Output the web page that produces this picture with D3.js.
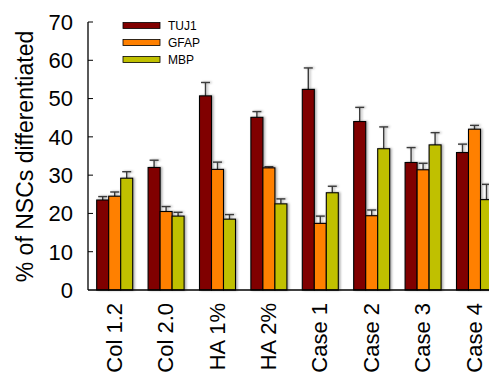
<!DOCTYPE html>
<html>
<head>
<meta charset="utf-8">
<script src="https://cdn.jsdelivr.net/npm/d3@7"></script>
<style>
  html, body { margin: 0; padding: 0; background: #fff; }
  svg { display: block; font-family: "Liberation Sans", Arial, sans-serif; }
</style>
</head>
<body>
<div id="chart"></div>
<script>
const categories = ["Col 1.2", "Col 2.0", "HA 1%", "HA 2%", "Case 1", "Case 2", "Case 3", "Case 4"];
const seriesNames = ["TUJ1", "GFAP", "MBP"];
const seriesColors = ["#800000", "#ff8000", "#c0c000"];

const tuj1 = [23.5, 32.0, 50.7, 45.1, 52.4, 44.0, 33.3, 35.9];
const gfap = [24.5, 20.5, 31.5, 31.9, 17.4, 19.4, 31.4, 42.0];
const mbp = [29.2, 19.3, 18.5, 22.5, 25.4, 36.9, 37.9, 23.6];

const tuj1Err = [0.9, 1.9, 3.5, 1.5, 5.6, 3.7, 3.9, 2.2];
const gfapErr = [1.1, 1.3, 1.9, 0.3, 1.9, 1.5, 1.7, 1.0];
const mbpErr = [1.7, 1.0, 1.2, 1.3, 1.7, 5.7, 3.2, 4.0];

const yTicks = [0, 10, 20, 30, 40, 50, 60, 70];

const values = [tuj1, gfap, mbp];
const errors = [tuj1Err, gfapErr, mbpErr];

const width = 489, height = 375;
const mLeft = 88, mBottom = 290, mTop = 22;
const step = 51.4;

const svg = d3.select("#chart").append("svg")
  .attr("width", width)
  .attr("height", height);

const defs = svg.append("defs");
defs.append("filter").attr("id", "shadow")
  .attr("x", "-20%").attr("y", "-5%").attr("width", "150%").attr("height", "110%")
  .append("feDropShadow")
  .attr("dx", 1.5).attr("dy", 0).attr("stdDeviation", 0.8)
  .attr("flood-color", "#000").attr("flood-opacity", 0.35);

const x = d3.scaleBand()
  .domain(categories)
  .range([mLeft, mLeft + step * categories.length])
  .padding(0);

const xInner = d3.scaleBand()
  .domain(seriesNames)
  .range([8.7, 8.7 + 36])
  .padding(0);

const y = d3.scaleLinear()
  .domain([0, 70])
  .range([mBottom, mTop]);

const rows = [];
categories.forEach((c, i) => {
  seriesNames.forEach((s, j) => {
    rows.push({ cat: c, series: s, value: values[j][i], err: errors[j][i], color: seriesColors[j] });
  });
});

// error bars (upper only), drawn behind bars
const eb = svg.append("g").attr("filter", "url(#shadow)");
rows.forEach(d => {
  const cx = x(d.cat) + xInner(d.series) + xInner.bandwidth() / 2;
  const yTop = y(d.value + d.err);
  eb.append("line")
    .attr("x1", cx).attr("x2", cx)
    .attr("y1", y(d.value)).attr("y2", yTop)
    .attr("stroke", "#3a3a3a").attr("stroke-width", 1.4);
  eb.append("line")
    .attr("x1", cx - 4.5).attr("x2", cx + 4.5)
    .attr("y1", yTop).attr("y2", yTop)
    .attr("stroke", "#3a3a3a").attr("stroke-width", 1.4);
});

// bars
svg.append("g").attr("filter", "url(#shadow)")
  .selectAll("rect")
  .data(rows)
  .join("rect")
  .attr("x", d => x(d.cat) + xInner(d.series))
  .attr("y", d => y(d.value))
  .attr("width", xInner.bandwidth())
  .attr("height", d => y(0) - y(d.value))
  .attr("fill", d => d.color)
  .attr("stroke", "#000")
  .attr("stroke-width", 1.1);

// y axis
const yAxis = svg.append("g").attr("transform", `translate(${mLeft},0)`);
yAxis.append("line")
  .attr("x1", 0).attr("x2", 0)
  .attr("y1", y(70)).attr("y2", y(0))
  .attr("stroke", "#000").attr("stroke-width", 1.3);
yAxis.selectAll("line.tick")
  .data(yTicks.filter(t => t > 0))
  .join("line")
  .attr("class", "tick")
  .attr("x1", 0).attr("x2", 5)
  .attr("y1", d => y(d)).attr("y2", d => y(d))
  .attr("stroke", "#000").attr("stroke-width", 1);
yAxis.selectAll("text")
  .data(yTicks)
  .join("text")
  .attr("x", -15)
  .attr("y", d => y(d))
  .attr("dy", "0.36em")
  .attr("text-anchor", "end")
  .attr("font-size", 22)
  .attr("fill", "#000")
  .text(d => d);

// x axis
svg.append("line")
  .attr("x1", mLeft).attr("x2", width)
  .attr("y1", mBottom).attr("y2", mBottom)
  .attr("stroke", "#000").attr("stroke-width", 1.5);

svg.append("g").selectAll("text")
  .data(categories)
  .join("text")
  .attr("transform", d => `translate(${x(d) + 8.7 + 18 + 7},${mBottom + 13}) rotate(-90)`)
  .attr("text-anchor", "end")
  .attr("font-size", 22)
  .attr("fill", "#000")
  .text(d => d);

// y title
svg.append("text")
  .attr("transform", `translate(33,156.5) rotate(-90)`)
  .attr("text-anchor", "middle")
  .attr("font-size", 23)
  .attr("fill", "#000")
  .text("% of NSCs differentiated");

// legend
const legend = svg.append("g");
seriesNames.forEach((s, j) => {
  const ly = 25.5 + j * 17;
  legend.append("rect")
    .attr("x", 123).attr("y", ly - 3)
    .attr("width", 37).attr("height", 6)
    .attr("fill", seriesColors[j])
    .attr("stroke", "#000").attr("stroke-width", 0.8);
  legend.append("text")
    .attr("x", 168).attr("y", ly)
    .attr("dy", "0.36em")
    .attr("font-size", 12)
    .attr("fill", "#000")
    .text(s);
});
</script>
</body>
</html>
